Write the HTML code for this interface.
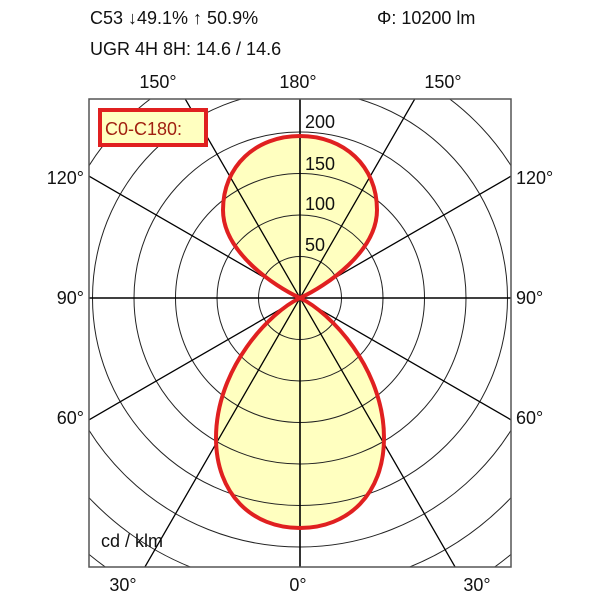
<!DOCTYPE html>
<html><head><meta charset="utf-8"><style>
html,body{margin:0;padding:0;background:#fff;}
svg{display:block;font-family:"Liberation Sans",Arial,sans-serif;}
</style></head><body>
<svg width="600" height="600" viewBox="0 0 600 600" xmlns="http://www.w3.org/2000/svg">
<defs><clipPath id="c"><rect x="89" y="99" width="422" height="468"/></clipPath></defs>
<rect width="600" height="600" fill="#fff"/>
<g font-size="18" fill="#111">
<text x="90" y="24">C53 ↓49.1% ↑ 50.9%</text>
<text x="377" y="24">Φ: 10200 lm</text>
<text x="90" y="55">UGR 4H 8H: 14.6 / 14.6</text>
<text x="158" y="88" text-anchor="middle">150°</text>
<text x="298" y="88" text-anchor="middle">180°</text>
<text x="443" y="88" text-anchor="middle">150°</text>
<text x="84" y="184" text-anchor="end">120°</text>
<text x="84" y="304" text-anchor="end">90°</text>
<text x="84" y="424" text-anchor="end">60°</text>
<text x="516" y="184">120°</text>
<text x="516" y="304">90°</text>
<text x="516" y="424">60°</text>
<text x="123" y="591" text-anchor="middle">30°</text>
<text x="298" y="591" text-anchor="middle">0°</text>
<text x="477" y="591" text-anchor="middle">30°</text>
</g>
<g clip-path="url(#c)">
<path fill="#ffffc0" stroke="none" d="M300,298 C330,312 384,368 384,438 C384,494 348,528 300,528 C252,528 216,494 216,438 C216,368 270,312 300,298Z M300,298 C326,286 377,252 377,210 C377,166 344,136 300,136 C256,136 223,166 223,210 C223,252 274,286 300,298Z"/>
<g fill="none" stroke="#222" stroke-width="1">
<circle cx="300" cy="298" r="41.5"/><circle cx="300" cy="298" r="83"/><circle cx="300" cy="298" r="124.5"/>
<circle cx="300" cy="298" r="166"/><circle cx="300" cy="298" r="207.5"/><circle cx="300" cy="298" r="249"/>
<circle cx="300" cy="298" r="290.5"/><circle cx="300" cy="298" r="332"/>
</g>
<g stroke="#000" stroke-width="1.6">
<line x1="300" y1="0" x2="300" y2="600"/>
<line x1="0" y1="298" x2="600" y2="298"/>
</g>
<g stroke="#000" stroke-width="1.3">
<line x1="127" y1="598" x2="473" y2="-2"/>
<line x1="473" y1="598" x2="127" y2="-2"/>
<line x1="0" y1="471.2" x2="600" y2="124.8"/>
<line x1="0" y1="124.8" x2="600" y2="471.2"/>
</g>
<path fill="none" stroke="#e02020" stroke-width="4" stroke-linejoin="round" d="M300,298 C330,312 384,368 384,438 C384,494 348,528 300,528 C252,528 216,494 216,438 C216,368 270,312 300,298Z M300,298 C326,286 377,252 377,210 C377,166 344,136 300,136 C256,136 223,166 223,210 C223,252 274,286 300,298Z"/>
</g>
<rect x="89" y="99" width="422" height="468" fill="none" stroke="#555" stroke-width="1.5"/>
<g font-size="18" fill="#111">
<text x="305" y="128">200</text>
<text x="305" y="170">150</text>
<text x="305" y="210">100</text>
<text x="305" y="251">50</text>
<text x="101" y="547">cd / klm</text>
</g>
<rect x="100" y="110" width="106" height="35" fill="#ffffc0" stroke="#e02020" stroke-width="4"/>
<text x="105" y="135" font-size="18" fill="#a02010">C0-C180:</text>
</svg>
</body></html>
